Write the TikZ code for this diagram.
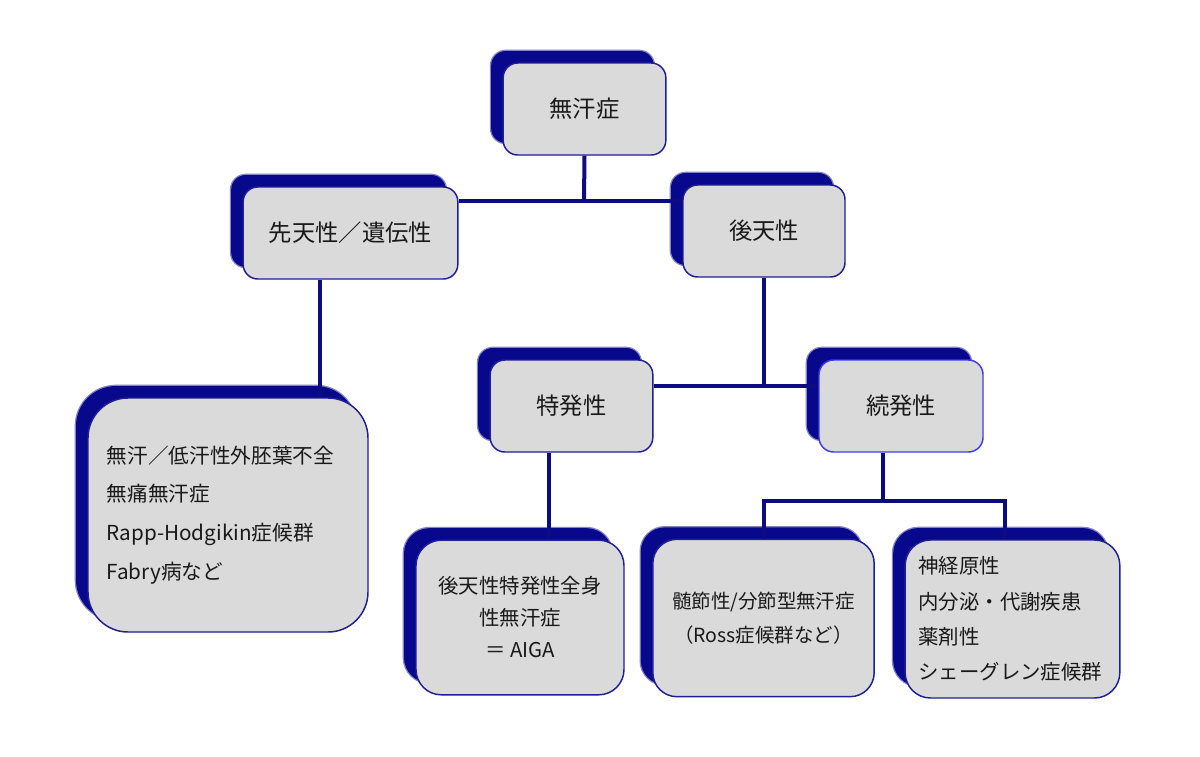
\documentclass[tikz,border=0pt]{standalone}
\usepackage{fontspec}
\newfontfamily\jp{Noto Sans CJK JP}
\usepackage{xcolor}
\usepackage{tikz}
\usetikzlibrary{shapes,positioning,calc,shadows}
\definecolor{navy}{RGB}{12,12,128}
\definecolor{boxline}{RGB}{30,30,150}
\definecolor{shadownavy}{RGB}{8,8,140}
\definecolor{boxgray}{RGB}{218,218,218}
\tikzset{
    box/.style={draw=boxline, line width=1.1pt, fill=boxgray, rounded corners=11pt, text=black!90,
        general shadow={fill=shadownavy, draw=shadownavy, draw opacity=0.5, line width=2pt, shadow xshift=-9pt, shadow yshift=9pt}},
    topbox/.style={box, font=\jp\fontsize{17.5}{21}\selectfont},
    link/.style={draw=navy, line width=3pt}
}

\begin{document}
\begin{tikzpicture}[x=0.75pt, y=-0.75pt]
    \useasboundingbox (0,0) rectangle (1200,757);

    % root
    \node[topbox, minimum width=122pt, minimum height=69pt] (root) at (584.5,109) {無汗症};

    % congenital / acquired
    \node[topbox, minimum width=161pt, minimum height=69pt] (cong) at (350.5,233) {先天性／遺伝性};
    \node[topbox, minimum width=121.5pt, minimum height=69pt] (acq) at (764,231) {後天性};

    % idiopathic / secondary
    \node[topbox, minimum width=122pt, minimum height=69pt] (idio) at (571.5,406) {特発性};
    \node[topbox, minimum width=123pt, minimum height=69pt, draw={rgb,255:red,60;green,60;blue,235}] (sec) at (901,406) {続発性};

    % lists
    \node[box, rounded corners=30pt, font=\jp\fontsize{15.5}{29}\selectfont, align=left, text width=182pt, inner xsep=14pt, minimum height=175.5pt] (lft) at (228,515)
        {無汗／低汗性外胚葉不全\\無痛無汗症\\Rapp-Hodgikin症候群\\Fabry病など};
    \node[box, rounded corners=19pt, font=\jp\fontsize{15.3}{24}\selectfont, align=center, minimum width=156pt, minimum height=116pt] (aiga) at (520,617.5)
        {後天性特発性全身\\性無汗症\\＝ AIGA};
    \node[box, rounded corners=18pt, font=\jp\fontsize{14.6}{25.5}\selectfont, align=center, minimum width=166pt, minimum height=118pt] (ross) at (763.5,618)
        {髄節性/分節型無汗症\\（Ross症候群など）};
    \node[box, rounded corners=19pt, font=\jp\fontsize{15.3}{26.5}\selectfont, align=left, text width=141pt, inner xsep=10pt, minimum height=118.5pt] (neuro) at (1012.5,619)
        {神経原性\\内分泌・代謝疾患\\薬剤性\\シェーグレン症候群};

    % connectors
    \coordinate (j1) at (584,201);
    \coordinate (j2) at (320,398);
    \coordinate (j3) at (764,386);
    \coordinate (j4) at (549,540);
    \coordinate (j5) at (883,501);
    \coordinate (j6) at (1005,501);
    \draw[link] (root.south) -- (j1);
    \draw[link] (cong.east |- j1) -- (acq.west |- j1);
    \draw[link] (cong.south -| j2) -- (lft.north -| j2);
    \draw[link] (acq.south) -- (j3);
    \draw[link] (idio.east |- j3) -- (sec.west |- j3);
    \draw[link] (idio.south -| j4) -- (aiga.north -| j4);
    \draw[link] (sec.south -| j5) -- (j5);
    \draw[link] (ross.north) |- (j6) -- (neuro.north -| j6);
\end{tikzpicture}
\end{document}
